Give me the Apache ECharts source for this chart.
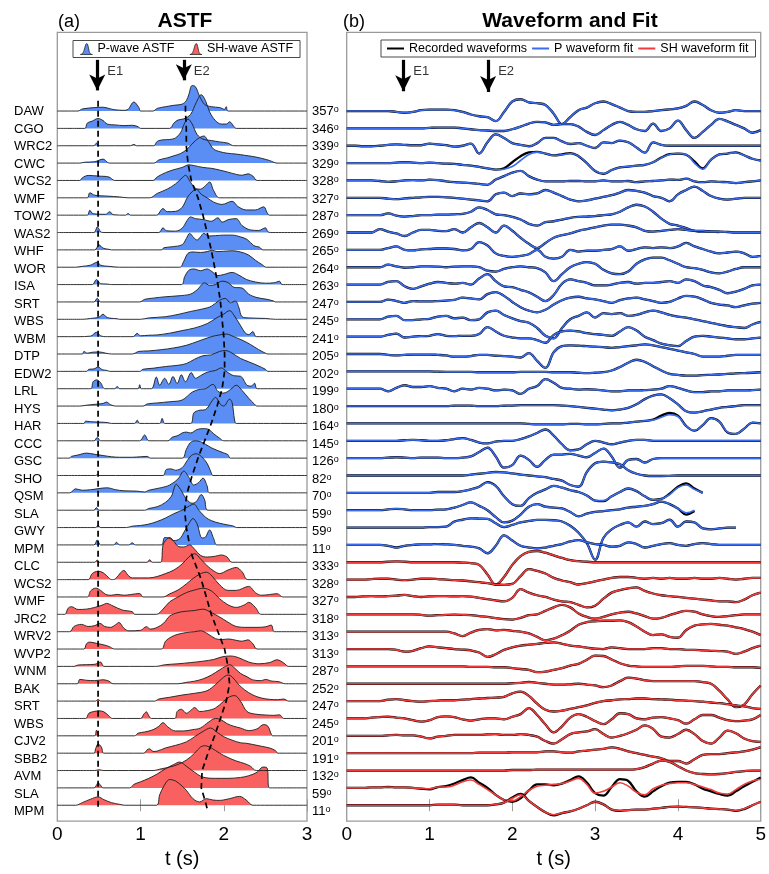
<!DOCTYPE html>
<html><head><meta charset="utf-8">
<script src="https://cdn.jsdelivr.net/npm/echarts@6/dist/echarts.min.js"></script>
<style>html,body{margin:0;padding:0;background:#fff}#c{width:769px;height:874px}</style>
</head><body><div id="c"></div>
<script>
// ---------------- station lists ----------------
const rowsP = ['DAW','CGO','WRC2','CWC','WCS2','WMF','TOW2','WAS2','WHF','WOR','ISA','SRT','WBS','WBM','DTP','EDW2','LRL','HYS','HAR','CCC','GSC','SHO','QSM','SLA','GWY','MPM'];
const rowsS = ['CLC','WCS2','WMF','JRC2','WRV2','WVP2','WNM','BAK','SRT','WBS','CJV2','SBB2','AVM','SLA','MPM'];
const azP = [357,346,339,329,328,327,287,269,265,264,263,247,245,241,205,202,199,180,164,145,126,82,70,59,59,11];
const azS = [333,328,327,318,313,313,287,252,247,245,201,191,132,59,11];
const tTicksA = [0,1,2,3];
const tTicksB = [0,1,2,3,4,5];

// ---------------- ASTF: [t (s), amplitude in % of row spacing] ----------------
const astfP_DAW=[[0,0],[0.25,0],[0.3,12],[0.45,20],[0.55,22],[0.62,15],[0.68,8],[0.8,4],[0.85,10],[0.92,52],[0.98,20],[1.0,0],[1.15,0],[1.2,15],[1.3,25],[1.4,33],[1.5,40],[1.55,60],[1.58,95],[1.62,147],[1.66,140],[1.71,85],[1.77,38],[1.85,25],[1.95,20],[2.01,10],[2.03,25],[2.05,0],[3,0]];
const astfP_CGO=[[0,0],[0.33,0],[0.36,30],[0.42,42],[0.49,57],[0.55,45],[0.6,25],[0.7,20],[0.8,16],[0.9,18],[0.97,10],[1.0,0],[1.35,0],[1.4,30],[1.45,48],[1.52,55],[1.6,80],[1.67,150],[1.73,194],[1.78,160],[1.83,95],[1.9,45],[1.97,25],[2.03,25],[2.07,38],[2.12,12],[2.15,0],[3,0]];
const astfP_WRC2=[[0,0],[0.44,0],[0.47,15],[0.5,0],[0.88,0],[0.92,8],[0.95,0],[1.16,0],[1.2,25],[1.27,34],[1.35,36],[1.42,45],[1.48,75],[1.53,130],[1.57,154],[1.62,125],[1.68,65],[1.75,38],[1.85,30],[1.95,22],[2.05,15],[2.12,0],[3,0]];
const astfP_CWC=[[0,0],[0.27,0],[0.33,5],[0.45,8],[0.55,23],[0.6,5],[0.63,0],[1.16,0],[1.22,18],[1.32,30],[1.4,42],[1.48,55],[1.56,80],[1.66,130],[1.76,156],[1.82,120],[1.88,80],[1.96,65],[2.04,57],[2.15,52],[2.25,45],[2.35,38],[2.45,28],[2.55,15],[2.64,0],[3,0]];
const astfP_WCS2=[[0,0],[0.27,0],[0.3,15],[0.37,29],[0.5,25],[0.62,20],[0.69,0],[1.15,0],[1.2,20],[1.3,45],[1.4,62],[1.5,75],[1.58,90],[1.65,85],[1.75,75],[1.85,70],[1.95,60],[2.05,48],[2.15,35],[2.22,30],[2.29,38],[2.35,25],[2.4,0],[3,0]];
const astfP_WMF=[[0,0],[0.36,0],[0.39,29],[0.45,15],[0.6,10],[0.75,5],[0.85,0],[1.11,0],[1.2,25],[1.32,50],[1.42,80],[1.5,115],[1.54,130],[1.6,90],[1.66,55],[1.72,50],[1.78,70],[1.83,91],[1.88,40],[1.95,0],[3,0]];
const astfP_TOW2=[[0,0],[0.36,0],[0.39,28],[0.43,8],[0.58,5],[0.63,20],[0.67,3],[0.82,0],[0.85,10],[0.88,0],[1.19,0],[1.27,38],[1.32,20],[1.42,22],[1.5,45],[1.56,100],[1.62,135],[1.67,149],[1.73,120],[1.8,100],[1.88,75],[1.98,62],[2.1,80],[2.17,50],[2.27,30],[2.38,30],[2.48,48],[2.52,15],[2.55,0],[3,0]];
const astfP_WAS2=[[0,0],[0.44,0],[0.48,32],[0.52,5],[0.55,0],[1.22,0],[1.27,27],[1.31,10],[1.42,8],[1.5,25],[1.56,70],[1.6,90],[1.66,80],[1.75,75],[1.85,65],[1.93,85],[1.98,60],[2.06,75],[2.15,80],[2.22,40],[2.32,15],[2.42,12],[2.5,27],[2.53,5],[2.56,0],[3,0]];
const astfP_WHF=[[0,0],[0.45,0],[0.5,29],[0.55,10],[0.62,3],[0.65,0],[1.25,0],[1.28,12],[1.38,18],[1.5,30],[1.55,65],[1.59,95],[1.64,70],[1.68,57],[1.72,75],[1.76,95],[1.82,80],[1.9,82],[2.0,85],[2.1,85],[2.2,75],[2.28,60],[2.36,25],[2.43,15],[2.47,0],[3,0]];
const astfP_WOR=[[0,0],[0.22,0],[0.3,5],[0.4,12],[0.48,29],[0.52,12],[0.62,5],[0.75,0],[1.47,0],[1.52,35],[1.57,80],[1.63,88],[1.72,85],[1.8,90],[1.86,98],[1.92,90],[2.0,92],[2.1,95],[2.2,88],[2.3,70],[2.38,40],[2.46,15],[2.51,0],[3,0]];
const astfP_ISA=[[0,0],[0.42,0],[0.47,29],[0.52,5],[0.6,3],[0.65,0],[1.49,0],[1.53,45],[1.58,82],[1.64,90],[1.72,80],[1.8,90],[1.85,78],[1.93,52],[2.0,58],[2.1,70],[2.18,55],[2.27,30],[2.38,15],[2.5,8],[2.6,10],[2.67,19],[2.7,0],[3,0]];
const astfP_SRT=[[0,0],[0.44,0],[0.48,21],[0.52,0],[0.99,0],[1.05,15],[1.15,22],[1.3,30],[1.45,35],[1.6,45],[1.68,70],[1.77,110],[1.83,95],[1.9,100],[1.98,120],[2.05,112],[2.12,85],[2.22,80],[2.3,45],[2.4,25],[2.52,15],[2.6,5],[2.62,0],[3,0]];
const astfP_WBS=[[0,0],[0.3,0],[0.4,5],[0.5,12],[0.55,29],[0.6,10],[0.72,3],[0.75,0],[1.0,0],[1.1,8],[1.3,15],[1.45,28],[1.6,45],[1.75,60],[1.85,75],[1.95,110],[2.02,120],[2.08,95],[2.14,105],[2.18,70],[2.22,15],[2.3,8],[2.5,5],[2.62,0],[3,0]];
const astfP_WBM=[[0,0],[0.25,0],[0.4,3],[0.47,25],[0.52,5],[0.6,0],[0.91,0],[0.96,19],[1.0,5],[1.1,8],[1.2,10],[1.35,20],[1.5,35],[1.65,50],[1.8,75],[1.92,110],[2.0,130],[2.07,150],[2.12,125],[2.2,65],[2.26,20],[2.3,12],[2.35,29],[2.39,0],[3,0]];
const astfP_DTP=[[0,0],[0.3,0],[0.32,15],[0.36,5],[0.42,10],[0.5,12],[0.58,5],[0.65,0],[0.9,0],[0.98,15],[1.1,18],[1.25,25],[1.4,35],[1.55,50],[1.7,75],[1.85,100],[1.95,110],[2.03,115],[2.12,100],[2.22,80],[2.32,55],[2.42,25],[2.5,5],[2.53,0],[3,0]];
const astfP_EDW2=[[0,0],[0.35,0],[0.38,12],[0.44,14],[0.49,25],[0.54,10],[0.6,5],[0.63,0],[0.99,0],[1.03,12],[1.15,18],[1.3,28],[1.45,35],[1.55,45],[1.65,70],[1.75,90],[1.85,95],[1.95,115],[2.02,120],[2.1,105],[2.2,75],[2.3,55],[2.4,35],[2.5,12],[2.53,0],[3,0]];
const astfP_LRL=[[0,0],[0.4,0],[0.43,40],[0.47,51],[0.52,35],[0.57,0],[0.69,0],[0.72,13],[0.75,0],[0.97,0],[0.99,23],[1.01,0],[1.13,0],[1.19,67],[1.23,20],[1.29,60],[1.34,25],[1.39,70],[1.44,30],[1.49,80],[1.54,40],[1.61,93],[1.66,60],[1.72,75],[1.8,95],[1.9,105],[1.97,120],[2.03,100],[2.12,75],[2.2,72],[2.28,20],[2.33,15],[2.37,32],[2.4,0],[3,0]];
const astfP_HYS=[[0,0],[0.27,0],[0.35,5],[0.45,10],[0.55,15],[0.59,23],[0.64,8],[0.7,0],[1.03,0],[1.08,12],[1.2,18],[1.35,25],[1.5,35],[1.62,80],[1.7,95],[1.78,100],[1.87,125],[1.93,85],[2.0,75],[2.08,95],[2.15,120],[2.22,90],[2.3,45],[2.37,10],[2.4,0],[3,0]];
const astfP_HAR=[[0,0],[0.32,0],[0.34,13],[0.4,10],[0.5,8],[0.6,5],[0.65,0],[0.93,0],[0.96,19],[0.99,0],[1.23,0],[1.26,29],[1.29,0],[1.6,0],[1.64,60],[1.7,75],[1.78,80],[1.86,130],[1.9,150],[1.96,110],[2.0,100],[2.07,140],[2.1,120],[2.13,20],[2.15,0],[3,0]];
const astfP_CCC=[[0,0],[0.44,0],[0.48,19],[0.52,0],[0.99,0],[1.05,34],[1.1,0],[1.33,0],[1.38,20],[1.45,30],[1.5,45],[1.55,50],[1.6,45],[1.68,65],[1.75,70],[1.82,65],[1.88,40],[1.95,15],[2.0,0],[3,0]];
const astfP_GSC=[[0,0],[0.14,0],[0.17,10],[0.25,18],[0.35,29],[0.45,22],[0.55,15],[0.65,8],[0.75,5],[0.9,5],[1.0,8],[1.08,10],[1.12,0],[1.5,0],[1.55,50],[1.6,90],[1.66,100],[1.72,95],[1.78,80],[1.85,60],[1.92,45],[2.0,30],[2.05,20],[2.08,0],[3,0]];
const astfP_SHO=[[0,0],[0.46,0],[0.48,5],[0.5,0],[1.27,0],[1.31,35],[1.37,38],[1.42,30],[1.5,45],[1.56,85],[1.61,115],[1.67,125],[1.73,110],[1.8,70],[1.85,15],[1.87,0],[3,0]];
const astfP_QSM=[[0,0],[0.15,0],[0.22,23],[0.3,15],[0.4,18],[0.6,29],[0.7,18],[0.8,12],[0.95,10],[1.05,5],[1.1,15],[1.25,30],[1.35,45],[1.45,80],[1.52,125],[1.58,90],[1.64,45],[1.7,60],[1.75,85],[1.8,40],[1.83,0],[3,0]];
const astfP_SLA=[[0,0],[0.44,0],[0.47,15],[0.5,0],[1.05,0],[1.1,10],[1.2,20],[1.3,45],[1.37,80],[1.43,149],[1.48,120],[1.55,65],[1.62,40],[1.67,50],[1.73,90],[1.77,60],[1.81,0],[3,0]];
const astfP_GWY=[[0,0],[0.46,0],[0.49,13],[0.52,0],[0.83,0],[0.9,8],[1.0,12],[1.1,20],[1.2,35],[1.3,55],[1.4,80],[1.5,100],[1.57,120],[1.64,135],[1.7,100],[1.78,60],[1.85,40],[1.95,25],[2.05,15],[2.12,8],[2.15,0],[3,0]];
const astfP_MPM=[[0,0],[0.44,0],[0.48,29],[0.52,0],[0.68,0],[0.71,15],[0.75,0],[0.86,0],[0.9,12],[0.94,0],[1.25,0],[1.29,42],[1.34,40],[1.4,25],[1.47,35],[1.53,80],[1.59,130],[1.63,152],[1.68,120],[1.74,40],[1.78,45],[1.83,86],[1.88,35],[1.92,0],[3,0]];

const astfS_CLC=[[0,0],[0.45,0],[0.48,13],[0.5,0],[1.08,0],[1.11,15],[1.14,0],[1.24,0],[1.27,100],[1.31,130],[1.35,143],[1.4,120],[1.46,90],[1.52,88],[1.59,100],[1.65,75],[1.72,40],[1.8,30],[1.9,35],[1.97,42],[2.04,30],[2.1,0],[3,0]];
const astfS_WCS2=[[0,0],[0.37,0],[0.42,35],[0.49,48],[0.55,40],[0.62,10],[0.65,0],[0.7,5],[0.76,40],[0.8,53],[0.85,25],[0.9,10],[1.1,10],[1.2,18],[1.3,35],[1.4,55],[1.5,90],[1.58,130],[1.65,149],[1.72,120],[1.8,80],[1.88,50],[1.95,35],[2.05,55],[2.15,70],[2.22,45],[2.29,0],[3,0]];
const astfS_WMF=[[0,0],[0.36,0],[0.4,35],[0.46,51],[0.52,38],[0.58,15],[0.65,10],[0.72,15],[0.8,10],[0.88,14],[0.99,20],[1.03,0],[1.27,0],[1.35,18],[1.45,40],[1.55,75],[1.67,120],[1.79,143],[1.86,120],[1.95,70],[2.05,38],[2.15,38],[2.3,61],[2.38,25],[2.45,10],[2.55,14],[2.64,19],[2.71,0],[3,0]];
const astfS_JRC2=[[0,0],[0.09,0],[0.13,35],[0.17,44],[0.25,28],[0.35,30],[0.45,40],[0.55,55],[0.59,63],[0.67,48],[0.78,25],[0.9,15],[0.93,0],[1.19,0],[1.27,30],[1.35,72],[1.45,100],[1.55,125],[1.65,140],[1.75,150],[1.85,135],[1.95,90],[2.05,55],[2.15,40],[2.25,55],[2.3,69],[2.38,40],[2.45,0],[3,0]];
const astfS_WRV2=[[0,0],[0.15,0],[0.2,30],[0.29,42],[0.37,30],[0.45,35],[0.51,48],[0.57,30],[0.64,25],[0.7,40],[0.74,53],[0.8,20],[0.86,5],[1.0,8],[1.07,29],[1.12,15],[1.2,25],[1.28,50],[1.35,90],[1.45,110],[1.55,118],[1.65,122],[1.75,130],[1.85,110],[1.95,85],[2.05,55],[2.15,30],[2.28,25],[2.4,25],[2.5,28],[2.57,38],[2.61,0],[3,0]];
const astfS_WVP2=[[0,0],[0.32,0],[0.35,30],[0.39,40],[0.47,33],[0.55,25],[0.62,15],[0.69,0],[1.25,0],[1.3,45],[1.37,70],[1.45,85],[1.55,95],[1.65,100],[1.72,105],[1.8,90],[1.9,60],[1.98,55],[2.06,58],[2.15,50],[2.22,45],[2.29,53],[2.35,30],[2.4,0],[3,0]];
const astfS_WNM=[[0,0],[0.2,0],[0.25,8],[0.35,10],[0.45,12],[0.52,25],[0.56,0],[1.18,0],[1.3,10],[1.45,15],[1.6,22],[1.75,30],[1.88,40],[1.98,55],[2.08,60],[2.18,50],[2.3,25],[2.42,15],[2.55,22],[2.64,38],[2.72,20],[2.78,0],[3,0]];
const astfS_BAK=[[0,0],[0.24,0],[0.27,25],[0.35,20],[0.45,18],[0.55,23],[0.62,15],[0.67,0],[1.45,0],[1.55,8],[1.65,15],[1.75,28],[1.85,50],[1.95,80],[2.02,100],[2.07,110],[2.12,95],[2.2,60],[2.28,40],[2.35,22],[2.45,18],[2.5,25],[2.58,15],[2.66,12],[2.74,0],[3,0]];
const astfS_SRT=[[0,0],[0.46,0],[0.49,10],[0.52,0],[1.17,0],[1.22,12],[1.35,22],[1.5,35],[1.65,45],[1.8,60],[1.9,95],[1.98,130],[2.05,150],[2.1,140],[2.17,100],[2.25,65],[2.35,35],[2.45,18],[2.55,10],[2.65,8],[2.72,12],[2.78,0],[3,0]];
const astfS_WBS=[[0,0],[0.34,0],[0.38,30],[0.44,40],[0.5,44],[0.56,38],[0.62,15],[0.66,0],[1.0,0],[1.04,25],[1.07,38],[1.1,15],[1.13,0],[1.41,0],[1.44,40],[1.49,53],[1.55,30],[1.6,45],[1.65,63],[1.71,40],[1.8,45],[1.9,60],[2.0,100],[2.07,125],[2.13,132],[2.2,100],[2.28,40],[2.38,25],[2.5,20],[2.6,18],[2.67,21],[2.72,0],[3,0]];
const astfS_CJV2=[[0,0],[0.45,0],[0.47,32],[0.51,0],[0.93,0],[0.97,15],[1.05,22],[1.15,35],[1.22,55],[1.27,76],[1.33,50],[1.42,28],[1.52,28],[1.62,35],[1.72,45],[1.82,80],[1.9,100],[1.96,95],[2.04,70],[2.12,55],[2.2,45],[2.3,30],[2.4,40],[2.48,65],[2.53,55],[2.57,10],[2.59,0],[3,0]];
const astfS_SBB2=[[0,0],[0.44,0],[0.46,25],[0.49,53],[0.53,35],[0.56,0],[1.04,0],[1.08,20],[1.11,25],[1.15,10],[1.2,12],[1.3,30],[1.42,45],[1.55,65],[1.65,95],[1.75,125],[1.84,145],[1.92,120],[2.0,95],[2.1,75],[2.2,60],[2.27,57],[2.35,50],[2.45,40],[2.55,30],[2.62,15],[2.65,0],[3,0]];
const astfS_AVM=[[0,0],[0.45,0],[0.5,4],[0.56,0],[1.15,0],[1.25,10],[1.35,20],[1.45,35],[1.55,60],[1.65,100],[1.72,135],[1.77,143],[1.85,130],[1.95,100],[2.05,75],[2.15,55],[2.25,40],[2.32,25],[2.39,0],[3,0]];
const astfS_SLA=[[0,0],[0.44,0],[0.47,15],[0.49,29],[0.52,15],[0.55,0],[0.87,0],[0.92,20],[1.0,35],[1.1,55],[1.2,80],[1.3,110],[1.4,135],[1.47,149],[1.55,125],[1.62,100],[1.75,62],[1.9,55],[2.05,55],[2.2,60],[2.3,70],[2.4,90],[2.47,120],[2.52,115],[2.55,0],[3,0]];
const astfS_MPM=[[0,0],[0.22,0],[0.3,15],[0.4,35],[0.49,48],[0.56,32],[0.65,15],[0.75,5],[0.81,0],[1.19,0],[1.23,60],[1.28,110],[1.35,148],[1.42,140],[1.5,110],[1.55,86],[1.63,38],[1.71,19],[1.79,38],[1.87,30],[1.95,28],[2.07,38],[2.19,51],[2.27,30],[2.35,0],[3,0]];

const astfP=[astfP_DAW,astfP_CGO,astfP_WRC2,astfP_CWC,astfP_WCS2,astfP_WMF,astfP_TOW2,astfP_WAS2,astfP_WHF,astfP_WOR,astfP_ISA,astfP_SRT,astfP_WBS,astfP_WBM,astfP_DTP,astfP_EDW2,astfP_LRL,astfP_HYS,astfP_HAR,astfP_CCC,astfP_GSC,astfP_SHO,astfP_QSM,astfP_SLA,astfP_GWY,astfP_MPM];
const astfS=[astfS_CLC,astfS_WCS2,astfS_WMF,astfS_JRC2,astfS_WRV2,astfS_WVP2,astfS_WNM,astfS_BAK,astfS_SRT,astfS_WBS,astfS_CJV2,astfS_SBB2,astfS_AVM,astfS_SLA,astfS_MPM];

// E1 / E2 picks (s)
const e1Time = 0.49;
const e2P = [1.54,1.55,1.55,1.57,1.61,1.69,1.75,1.80,1.85,1.89,1.93,1.96,1.98,2.0,2.01,2.01,1.98,1.92,1.85,1.77,1.69,1.62,1.56,1.53,1.55,1.59];
const e2S = [1.65,1.73,1.79,1.85,1.93,2.01,2.05,2.07,2.03,1.96,1.89,1.81,1.74,1.73,1.79];

// ---------------- waveforms, t = 0..5 s every 0.1 s, % of row spacing ----------------
const waveStep = 0.1;
const fitP_DAW=[0,0,0,0,0,0,-5,-10,-5,5,8,8,8,5,-5,-20,-30,-35,-58,-5,55,68,50,45,35,-15,-75,-35,5,20,45,55,40,20,0,-5,-5,0,5,10,15,30,55,35,5,-10,-5,5,0,0,0];
const fitP_CGO=[0,0,0,0,0,0,0,0,0,0,3,5,5,5,0,-5,-10,-12,-15,-15,-5,10,28,38,35,20,25,25,10,-20,-38,-10,20,38,20,-5,-15,28,-15,0,45,-10,-55,-20,20,55,40,20,0,-25,-10];
const fitP_WRC2=[0,0,-3,-3,0,5,8,5,3,3,12,8,3,-5,0,12,-45,20,65,45,15,5,-3,15,45,45,25,10,15,0,-13,20,15,30,20,-10,-40,20,5,0,0,0,0,0,0,0,0,0,0,0,0];
const fitP_CWC=[0,0,0,0,0,0,3,5,3,0,3,0,-3,-5,-10,-15,-22,-30,-38,-35,-20,15,50,63,55,45,48,55,40,0,-45,-60,-40,-25,-20,-15,-10,5,30,50,55,50,0,-35,20,50,55,60,45,25,15];
const fitP_WCS2=[0,0,0,0,-3,-8,-5,0,2,0,5,2,-5,-10,-12,-15,-20,-25,5,25,45,55,25,5,-5,-5,-5,-3,-3,-5,-5,0,-5,-5,-3,-10,-5,-3,0,5,3,10,-5,-10,-5,-8,-10,-15,-10,-5,0];
const fitP_WMF=[0,0,0,0,0,-5,-8,-3,0,3,5,5,3,0,-5,-10,-15,-20,20,30,10,25,20,25,45,30,10,-10,-20,-15,-5,5,15,30,45,40,30,10,0,-20,20,45,65,40,10,-5,-10,-5,0,0,0];
const fitP_TOW2=[0,0,0,0,0,10,-3,-8,-5,0,0,3,3,5,8,20,45,30,5,0,-10,-25,-50,-60,-40,-35,-25,-15,-10,-8,-5,0,5,20,45,60,50,20,-20,-50,-60,-75,-90,-95,-95,-97,null,null,null,null,null];
const fitP_WAS2=[0,0,0,0,20,5,-5,-20,0,15,15,10,8,20,0,30,55,30,0,40,10,-30,-65,-90,-60,-30,-15,-5,10,20,30,40,45,45,40,30,10,5,10,15,20,15,10,10,5,5,3,0,0,0,0];
const fitP_WHF=[0,0,0,0,0,10,20,0,-3,3,5,8,8,5,-3,5,45,25,-20,-35,-40,-35,-25,0,-40,-50,-40,0,-10,-5,-5,0,5,20,-5,5,15,10,15,10,20,40,20,5,-10,-20,-15,-10,-20,-40,-35];
const fitP_WOR=[0,0,0,0,0,15,5,-3,0,5,5,3,0,3,5,5,0,-20,-25,-10,0,5,0,-5,-30,-80,-40,0,20,30,20,-15,-35,-40,-25,20,45,55,55,40,20,0,-5,-15,-30,-35,-25,-10,0,0,0];
const fitP_ISA=[0,0,0,0,0,15,20,-10,-25,-10,5,15,10,5,10,0,35,60,20,-10,-15,-30,-45,-70,-95,-60,5,30,20,10,-5,-5,0,10,15,5,10,10,15,20,10,30,20,-5,-15,-30,-50,-40,-25,-5,0];
const fitP_SRT=[0,0,0,0,0,13,5,-5,5,3,3,5,8,12,25,20,15,45,57,35,0,-30,-50,-60,-45,-15,10,25,30,20,15,5,-5,10,20,25,15,5,-5,0,20,35,30,15,-5,-15,-20,-30,-20,-10,-5];
const fitP_WBS=[0,0,0,0,0,15,20,-5,-5,0,3,15,20,5,10,-5,0,40,50,25,5,-10,-20,-50,-95,-110,-50,0,20,40,10,35,30,35,20,25,40,50,40,25,15,10,0,-10,-20,-30,-40,-45,-50,-30,-15];
const fitP_WBM=[0,0,0,0,0,10,18,-5,0,3,5,15,5,3,5,5,15,55,30,5,-5,-10,-10,-20,-35,10,30,35,30,20,15,10,5,30,55,35,0,-20,-40,-50,-55,-25,0,5,0,-5,-10,-15,-15,-10,-5];
const fitP_DTP=[0,0,0,0,0,-5,-8,-5,-3,-3,-3,-5,-8,-15,-15,-12,-5,-5,-10,-12,-15,-20,5,-40,-80,10,45,50,48,45,42,40,35,40,45,50,55,50,40,30,20,10,0,-15,-15,-15,-10,-5,-5,-5,-5];
const fitP_EDW2=[0,0,0,0,0,0,0,0,0,0,0,-2,-3,-3,-3,-3,-5,-5,-5,-5,-5,-3,-3,-3,-3,-5,-5,-5,-8,-10,-8,-5,5,25,50,67,55,30,5,-15,-20,-25,-25,-22,-20,-18,-15,-12,-10,-8,-5];
const fitP_LRL=[0,0,0,0,0,-15,5,20,10,10,15,5,0,-15,0,-5,5,0,-10,-5,-10,-30,0,15,55,35,5,0,-5,-3,-5,-10,-15,-15,-10,-10,-8,-5,0,15,5,-10,-20,-20,-15,-15,-10,-10,-10,-8,-5];
const fitP_HYS=[0,0,0,0,0,0,0,0,0,0,0,0,0,2,3,2,0,0,0,2,3,5,5,5,5,5,3,0,-5,-10,-15,-20,-25,-20,-10,10,40,60,67,45,10,-30,-38,-30,-20,-10,-5,0,5,5,5];
const fitP_HAR=[0,0,0,0,0,0,0,0,0,0,0,0,0,0,0,0,0,0,0,0,0,0,-3,-5,-5,-5,-5,-3,-3,-5,-5,-3,0,0,5,10,15,20,35,50,40,-15,-40,-10,30,10,-50,-60,-30,5,0];
const fitP_CCC=[0,0,0,0,0,0,0,3,5,3,0,0,3,10,15,5,-10,-15,-5,0,0,10,25,45,65,30,-20,-55,-50,-20,0,-10,-20,-10,0,5,5,0,0,0,0,0,0,0,0,0,0,0,0,0,0];
const fitP_GSC=[0,0,0,0,0,3,5,3,0,3,3,3,0,0,3,10,35,60,10,-55,-40,15,-10,-50,-10,20,20,25,15,5,30,55,10,-55,-10,-5,-25,-5,0,0,0,0,0,0,0,0,0,0,0,0,0];
const fitP_SHO=[0,0,0,0,0,0,0,0,0,0,0,0,0,0,0,5,10,15,20,18,12,5,0,-5,-10,-20,-30,-55,-65,20,70,80,75,65,30,10,0,-3,-3,-2,0,0,0,0,0,0,0,0,0,0,0];
const fitP_QSM=[0,0,0,0,0,0,0,0,0,0,0,5,5,5,10,20,35,60,40,-20,-65,-75,-30,0,20,40,30,15,5,-15,-45,-45,-20,5,25,10,-20,-40,-35,-10,30,45,20,0,null,null,null,null,null,null,null];
const fitP_SLA=[0,0,0,0,0,5,8,5,0,0,0,3,5,15,30,45,25,0,-40,-70,-60,-25,20,35,20,15,10,-10,-35,-20,-10,-5,0,5,15,20,25,35,50,35,10,-15,0,null,null,null,null,null,null,null,null];
const fitP_GWY=[0,0,0,0,0,0,0,0,0,0,3,3,5,34,45,53,52,50,25,3,15,30,38,44,44,42,35,10,-30,-90,-185,-60,-10,15,30,5,35,20,25,45,5,35,30,-5,-10,-5,0,0,null,null,null];
const fitP_MPM=[0,0,0,0,0,-5,-15,-5,0,3,3,5,3,0,-5,-10,-20,-48,-5,55,25,-5,-15,-20,-15,-5,5,20,28,15,5,0,-10,-5,15,5,-15,-5,5,10,0,-5,5,10,5,0,0,0,0,0,0];

const fitS_CLC=[0,0,0,0,0,3,5,3,0,0,0,0,0,0,-2,-5,-15,-70,-128,-85,-15,35,60,65,55,40,25,12,6,3,0,0,0,0,0,0,0,0,0,0,0,0,0,0,0,0,0,0,0,0,0];
const fitS_WCS2=[0,0,0,3,5,5,0,-3,0,5,5,3,0,-3,-5,-10,-15,-20,-28,-30,-25,20,60,50,35,10,-5,-15,-28,-20,-10,0,10,15,15,10,5,10,5,10,5,5,10,5,5,10,5,0,5,10,10];
const fitS_WMF=[0,0,3,5,3,5,8,12,5,0,3,5,5,3,5,2,-5,-12,-20,-25,-5,45,25,10,0,-15,-25,-30,-45,-60,-50,-10,25,40,50,55,35,20,10,5,0,-5,-10,-15,-20,-25,-25,-30,-15,10,25];
const fitS_JRC2=[0,0,0,0,0,0,0,0,0,-3,-8,-5,-3,-2,-3,-5,-10,-15,-22,-28,-30,-20,-5,0,20,40,55,40,5,-15,-25,-15,0,10,15,5,-10,-25,-20,-5,10,20,15,0,-10,-15,-10,-5,0,0,0];
const fitS_WRV2=[0,0,0,0,0,0,0,0,0,0,0,0,0,-10,-25,-5,10,15,8,10,5,0,-10,-30,-50,-40,-20,5,40,55,60,63,63,65,55,30,0,-20,-15,-30,-35,10,35,42,45,40,35,25,15,0,-20];
const fitS_WVP2=[0,0,0,0,0,0,-5,-15,-10,5,15,10,5,0,-3,-8,-20,-45,-30,-5,10,20,25,30,35,38,30,20,15,8,2,0,10,5,0,0,0,5,5,0,0,-5,-5,-8,-10,-12,-15,-28,-15,5,20];
const fitS_WNM=[0,0,0,0,0,0,0,0,0,0,0,0,0,0,0,-3,-3,-3,-5,-5,-10,-15,-20,-33,-30,-20,-10,5,15,38,62,60,40,18,5,0,-3,-3,-3,-3,0,3,3,3,0,-3,-3,-5,-5,-5,-8];
const fitS_BAK=[0,0,0,0,0,0,0,0,0,0,0,0,0,0,0,0,0,0,0,0,3,5,10,5,0,-5,-5,-3,0,-5,-10,-20,-10,15,35,30,20,15,15,15,15,15,15,10,0,-40,-90,-135,-120,-60,-10];
const fitS_SRT=[0,0,0,0,0,8,12,5,0,-3,0,3,5,5,8,12,15,18,20,25,45,55,30,-15,-50,-60,-55,-45,-35,-25,-10,0,5,10,12,15,15,12,10,8,5,3,0,-3,-8,-12,-18,-25,-30,-40,-45];
const fitS_WBS=[0,0,0,5,8,10,5,0,-10,-18,-10,8,12,8,-5,-12,-5,0,0,-5,10,25,60,20,-35,-80,-45,5,25,10,-15,-33,-5,30,25,0,-5,5,8,0,-10,-30,-5,20,20,5,-10,-15,-12,-5,20];
const fitS_CJV2=[0,0,0,0,0,3,5,3,3,-5,-15,-5,0,5,5,5,5,8,10,5,5,10,5,-5,-30,-45,-20,10,20,25,38,10,-10,0,15,35,60,40,-5,-10,10,35,10,-30,-45,-10,30,15,-15,-30,-35];
const fitS_SBB2=[0,0,0,0,0,0,0,0,0,0,0,0,0,0,0,0,3,3,3,3,5,5,5,5,10,10,5,3,10,15,20,25,33,25,10,0,-10,-20,-30,-45,-45,-60,-35,-10,-5,-5,0,5,10,20,35];
const fitS_AVM=[0,0,0,0,0,0,0,0,0,0,0,0,0,0,0,0,0,0,0,0,3,3,3,5,5,5,5,5,5,5,5,5,5,5,5,8,20,40,57,50,25,0,-15,-20,-22,-20,-15,-8,-3,0,0];
const fitS_SLA=[0,0,0,3,3,5,3,3,0,-3,-5,5,5,15,35,45,20,-10,-40,-70,-75,-50,-15,10,15,20,25,40,55,20,-30,-20,5,30,10,-25,-40,-5,15,25,30,30,20,5,-10,-30,-35,-10,20,40,50];
const fitS_MPM=[0,0,0,0,0,0,0,0,0,0,0,3,3,3,0,0,0,0,5,15,40,60,25,-10,-40,-55,-45,-35,-20,0,20,5,-25,-30,-28,-25,-25,-20,-15,-10,-8,-10,-12,-15,-20,-22,-25,-30,-20,0,20];

// recorded traces that visibly depart from the fit (elsewhere the recorded line lies under the fit)
const recP_CWC=[0,0,0,0,0,0,3,5,3,0,3,0,-3,-5,-10,-15,-22,-30,-38,-30,5,40,62,65,55,45,50,58,40,0,-45,-62,-40,-25,-20,-15,-10,5,32,52,55,48,10,-30,20,50,55,62,45,25,15];
const recP_HAR=[0,0,0,0,0,0,0,0,0,0,0,0,0,0,0,0,0,0,0,0,0,0,-3,-5,-5,-5,-5,-3,-3,-5,-5,-3,0,0,5,10,15,22,45,60,45,-15,-42,-10,30,10,-52,-60,-30,5,0];
const recP_QSM=[0,0,0,0,0,0,0,0,0,0,0,5,5,5,10,20,35,62,40,-20,-65,-75,-30,0,20,40,30,15,5,-15,-45,-48,-20,5,25,10,-20,-40,-35,-5,35,55,25,0,null,null,null,null,null,null,null];
const recP_SLA=[0,0,0,0,0,5,8,5,0,0,0,3,5,15,30,45,25,0,-40,-70,-60,-25,20,35,20,15,10,-10,-35,-20,-10,-5,0,5,15,20,25,35,50,35,10,-25,-5,null,null,null,null,null,null,null,null];
const recS_SLA=[0,0,0,3,3,5,3,3,0,-5,-8,5,10,25,45,60,30,0,-40,-70,-80,-60,-15,20,20,15,25,45,66,30,-30,-45,5,50,40,-20,-50,-20,10,30,35,35,20,-5,-20,-35,-45,-20,10,35,60];
const recS_MPM=[0,0,0,0,0,0,0,0,0,0,0,3,3,3,0,0,0,0,5,15,45,65,25,-10,-40,-58,-45,-35,-20,0,20,5,-25,-32,-28,-25,-25,-20,-15,-10,-8,-10,-12,-15,-20,-22,-25,-32,-22,0,20];

const fitP=[fitP_DAW,fitP_CGO,fitP_WRC2,fitP_CWC,fitP_WCS2,fitP_WMF,fitP_TOW2,fitP_WAS2,fitP_WHF,fitP_WOR,fitP_ISA,fitP_SRT,fitP_WBS,fitP_WBM,fitP_DTP,fitP_EDW2,fitP_LRL,fitP_HYS,fitP_HAR,fitP_CCC,fitP_GSC,fitP_SHO,fitP_QSM,fitP_SLA,fitP_GWY,fitP_MPM];
const fitS=[fitS_CLC,fitS_WCS2,fitS_WMF,fitS_JRC2,fitS_WRV2,fitS_WVP2,fitS_WNM,fitS_BAK,fitS_SRT,fitS_WBS,fitS_CJV2,fitS_SBB2,fitS_AVM,fitS_SLA,fitS_MPM];
const recP=[fitP_DAW,fitP_CGO,fitP_WRC2,recP_CWC,fitP_WCS2,fitP_WMF,fitP_TOW2,fitP_WAS2,fitP_WHF,fitP_WOR,fitP_ISA,fitP_SRT,fitP_WBS,fitP_WBM,fitP_DTP,fitP_EDW2,fitP_LRL,fitP_HYS,recP_HAR,fitP_CCC,fitP_GSC,fitP_SHO,recP_QSM,recP_SLA,fitP_GWY,fitP_MPM];
const recS=[fitS_CLC,fitS_WCS2,fitS_WMF,fitS_JRC2,fitS_WRV2,fitS_WVP2,fitS_WNM,fitS_BAK,fitS_SRT,fitS_WBS,fitS_CJV2,fitS_SBB2,fitS_AVM,recS_SLA,recS_MPM];

// annotation arrows (t, y start, y end, label y) in axis units
const arrowsA=[{name:'E1',t:0.48,y0:42.95,y1:41.19,ly:42.27},{name:'E2',t:1.52,y0:42.95,y1:41.77,ly:42.27}];
const arrowsB=[{name:'E1',t:0.683,y0:42.95,y1:41.14,ly:42.27},{name:'E2',t:1.708,y0:42.95,y1:41.1,ly:42.27}];

// ---------------- build chart ----------------
const FONT = '"Liberation Sans", Arial, Helvetica, sans-serif';
const C = {pFill:'#5a8ef4', sFill:'#f96060', pLine:'#3a6cf0', sLine:'#f23c3c', frame:'#9a9a9a'};
const nRows = rowsP.length + rowsS.length;
const yMin = -0.914, yMax = 44.537;
const baseOf = i => (nRows - 1) - i;

const series = [];
function astfSeries(pts, base, color, name){
  series.push({type:'line', name, xAxisIndex:0, yAxisIndex:0, silent:true,
    data: pts.map(p => [p[0], base + p[1]/100]),
    smooth:0.35, symbol:'none', itemStyle:{color},
    lineStyle:{color:'#1c1c1c', width:0.9},
    areaStyle:{color, opacity:1, origin: base}});
}
astfP.forEach((pts,i) => astfSeries(pts, baseOf(i), C.pFill, 'P-wave ASTF'));
astfS.forEach((pts,k) => astfSeries(pts, baseOf(rowsP.length + k), C.sFill, 'SH-wave ASTF'));

const dash = {color:'#000', width:1.7, type:[6,4]};
series.push({type:'line', xAxisIndex:0, yAxisIndex:0, silent:true, symbol:'none', z:4, lineStyle:dash,
  data:[[e1Time, 40.6],[e1Time, -0.1]]});
series.push({type:'line', xAxisIndex:0, yAxisIndex:0, silent:true, symbol:'none', z:4, lineStyle:dash,
  data:[[e2P[0], 40.3]].concat(e2P.map((t,i)=>[t, baseOf(i)]))});
series.push({type:'line', xAxisIndex:0, yAxisIndex:0, silent:true, symbol:'none', z:4, lineStyle:dash,
  data:[[1.61, 14.5]].concat(e2S.map((t,k)=>[t, baseOf(rowsP.length+k)])).concat([[1.80,-0.2]])});

function arrowSeries(arr, xi, yi){
  series.push({type:'scatter', xAxisIndex:xi, yAxisIndex:yi, silent:true, z:5, symbolSize:0,
    data: arr.map(a => ({name:a.name, value:[a.t, a.ly]})),
    label:{show:true, formatter:'{b}', position:'right', distance:10, fontSize:13, color:'#000', fontFamily:FONT},
    markLine:{silent:true, symbol:['none','arrow'], symbolSize:[12,16], animation:false,
      lineStyle:{color:'#000', width:3.2, type:'solid'}, label:{show:false},
      emphasis:{disabled:true},
      data: arr.map(a => [{coord:[a.t,a.y0]},{coord:[a.t,a.y1]}])}});
}
arrowSeries(arrowsA, 0, 0);
arrowSeries(arrowsB, 2, 2);

function waveSeries(vals, base, color, width, name){
  series.push({type:'line', name, xAxisIndex:2, yAxisIndex:2, silent:true, symbol:'none', smooth:0.4,
    data: vals.map((v,k) => [Math.round(k*waveStep*100)/100, v === null ? '-' : base + v/100]),
    itemStyle:{color}, lineStyle:{color, width}});
}
rowsP.forEach((s,i) => { waveSeries(recP[i], baseOf(i), '#000', 2.3, 'Recorded waveforms'); waveSeries(fitP[i], baseOf(i), C.pLine, 1.6, 'P waveform fit'); });
rowsS.forEach((s,k) => { const i = rowsP.length + k; waveSeries(recS[k], baseOf(i), '#000', 2.3, 'Recorded waveforms'); waveSeries(fitS[k], baseOf(i), C.sLine, 1.6, 'SH waveform fit'); });

const gridA = {left:57.3, top:32.3, width:249.7, height:795.4};
const gridB = {left:346.7, top:32.3, width:419.3, height:795.4};
const tick = (len) => ({show:true, inside:true, length:len, lineStyle:{color:C.frame, width:1}});
function xAx(g, max, bottom){
  return {gridIndex:g, type:'value', min:0, max, interval:1, position: bottom ? 'bottom':'top',
    axisLine:{show:false}, splitLine:{show:false}, axisTick:tick(6),
    axisLabel: bottom ? {show:true, fontSize:19, color:'#000', margin:4, fontFamily:FONT, showMaxLabel:true} : {show:false},
    name: bottom ? 't (s)' : '', nameLocation:'middle', nameGap:24,
    nameTextStyle:{fontSize:20, color:'#000', fontFamily:FONT}};
}
function yAx(g, pos){
  return {gridIndex:g, type:'value', min:yMin, max:yMax, position:pos,
    axisLine:{show:false}, splitLine:{show:false}, axisLabel:{show:false}, axisTick:{show:false}};
}
const allNames = rowsP.concat(rowsS);
const allAz = azP.concat(azS).map(String);
const legendFont = {fontSize:12.5, color:'#000', fontFamily:FONT};
const peakIcon = 'path://M0,10 C2.5,10 3,7 4,4 C4.6,1.5 5.2,0 5.8,0 C6.6,0 7,2 7.6,5 C8.3,8.5 8.8,10 11,10 Z';

const option = {
  animation:false,
  backgroundColor:'#fff',
  textStyle:{fontFamily:FONT},
  grid:[
    Object.assign({show:true, borderColor:C.frame, borderWidth:1.3, backgroundColor:'transparent'}, gridA),
    Object.assign({show:true, borderColor:C.frame, borderWidth:1.3, backgroundColor:'transparent'}, gridB),
    {left:57.3, width:249.7, top:111.7 - 8.75, height:nRows*17.5, show:false}
  ],
  xAxis:[ xAx(0,3,true), xAx(0,3,false), xAx(1,5,true), xAx(1,5,false),
    {gridIndex:2, type:'value', show:false, min:0, max:1} ],
  yAxis:[ yAx(0,'left'), yAx(0,'right'), yAx(1,'left'), yAx(1,'right'),
    {gridIndex:2, type:'category', data:allNames, inverse:true, position:'left',
      axisLine:{show:false}, axisTick:{show:false}, splitLine:{show:false},
      axisLabel:{interval:0, align:'left', margin:43.3, fontSize:13, color:'#000', fontFamily:FONT}},
    {gridIndex:2, type:'category', data:allAz, inverse:true, position:'right',
      axisLine:{show:false}, axisTick:{show:false}, splitLine:{show:false},
      axisLabel:{interval:0, margin:5, fontSize:13, color:'#000', fontFamily:FONT,
        formatter: v => v + '{s|o}',
        rich:{s:{fontSize:9, verticalAlign:'top', color:'#000', fontFamily:FONT}}}} ],
  legend:[
    {left:73, top:40.5, orient:'horizontal', selectedMode:false, padding:[2,7,2,7], itemGap:15,
      itemWidth:12, itemHeight:11, borderColor:'#4a4a4a', borderWidth:1, backgroundColor:'#fff',
      textStyle:legendFont,
      data:[
        {name:'P-wave ASTF', icon:peakIcon, itemStyle:{color:C.pFill, borderColor:'#222', borderWidth:0.8}},
        {name:'SH-wave ASTF', icon:peakIcon, itemStyle:{color:C.sFill, borderColor:'#222', borderWidth:0.8}}
      ]},
    {left:381, top:40, orient:'horizontal', selectedMode:false, padding:[2,7,2,6], itemGap:5,
      itemWidth:17, itemHeight:2, borderColor:'#4a4a4a', borderWidth:1, backgroundColor:'#fff',
      textStyle:legendFont,
      data:[
        {name:'Recorded waveforms', icon:'rect', itemStyle:{color:'#000', borderWidth:0}},
        {name:'P waveform fit', icon:'rect', itemStyle:{color:C.pLine, borderWidth:0}},
        {name:'SH waveform fit', icon:'rect', itemStyle:{color:C.sLine, borderWidth:0}}
      ]}
  ],
  graphic:[
    {type:'text', x:58, y:22.5, style:{text:'(a)', font:'18px '+FONT, fill:'#000', align:'left', verticalAlign:'middle'}},
    {type:'text', x:185, y:21.5, style:{text:'ASTF', font:'bold 21px '+FONT, fill:'#000', align:'center', verticalAlign:'middle'}},
    {type:'text', x:343, y:22.5, style:{text:'(b)', font:'18px '+FONT, fill:'#000', align:'left', verticalAlign:'middle'}},
    {type:'text', x:570, y:21.5, style:{text:'Waveform and Fit', font:'bold 21px '+FONT, fill:'#000', align:'center', verticalAlign:'middle'}}
  ],
  series
};
const chart = echarts.init(document.getElementById('c'), null, {renderer:'canvas'});
chart.setOption(option);
</script>
</body></html>
